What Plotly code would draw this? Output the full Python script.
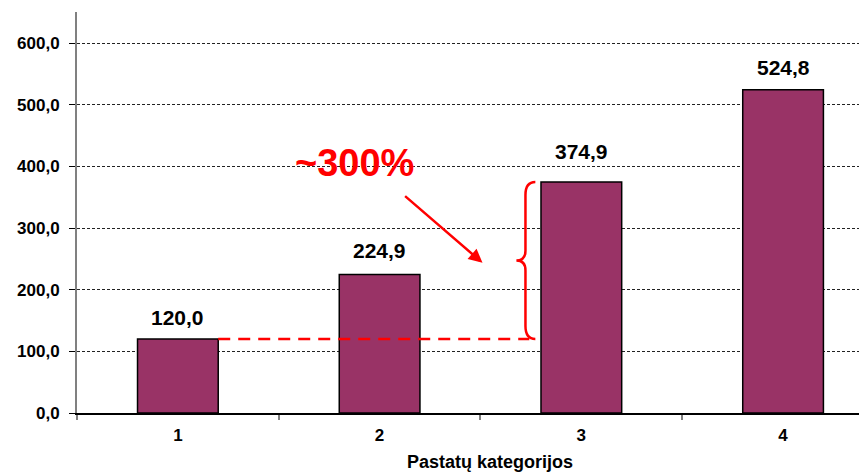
import plotly.graph_objects as go

categories = ["1", "2", "3", "4"]
values = [120.0, 224.9, 374.9, 524.8]
y_ticks = [0, 100, 200, 300, 400, 500, 600]
x_title = "Pastatų kategorijos"
note_text = "~300%"

BAR_COLOR = "#993366"
RED = "#FF0000"
FONT = "Liberation Sans, Arial, sans-serif"
LABEL_SHIFT = [8, 10, 17, 9]

fig = go.Figure()
fig.add_trace(go.Bar(
    x=categories, y=values, width=0.4,
    marker=dict(color=BAR_COLOR, line=dict(color="black", width=1.5)),
    hoverinfo="skip",
))

# value labels
for i, (c, v) in enumerate(zip(categories, values)):
    fig.add_annotation(x=i, y=v, text=f"{v:.1f}".replace(".", ","), showarrow=False,
                       yanchor="bottom", yshift=LABEL_SHIFT[i],
                       font=dict(family=FONT, size=21, color="black", weight="bold"))

# dashed reference line from bar 1 top to the brace
i1, i3 = 0, 2
base = values[i1]
top = values[i3]
brace_x = i3 - 0.2 - 0.028   # just left of bar 3
brace_v = brace_x - 0.049
brace_tip = brace_x - 0.094
fig.add_shape(type="line", xref="x", yref="y",
              x0=i1 + 0.2, x1=brace_x - 0.03, y0=base, y1=base,
              line=dict(color=RED, width=2.5, dash="12px,8px"))

mid = (base + top) / 2
h = 21
m = 16
path = (f"M {brace_x},{top} Q {brace_v},{top} {brace_v},{top - h} "
        f"L {brace_v},{mid + m} Q {brace_v},{mid} {brace_tip},{mid} "
        f"Q {brace_v},{mid} {brace_v},{mid - m} "
        f"L {brace_v},{base + h} Q {brace_v},{base} {brace_x},{base}")
fig.add_shape(type="path", xref="x", yref="y", path=path,
              line=dict(color=RED, width=2.5))

# ~300% text and arrow
fig.add_annotation(x=0.876, y=406, text=note_text, showarrow=False,
                   font=dict(family=FONT, size=38, color=RED, weight="bold"))
fig.add_annotation(x=1.51, y=243.7, ax=1.119, ay=354, xref="x", yref="y",
                   axref="x", ayref="y", text="", showarrow=True,
                   arrowhead=2, arrowsize=1.1, arrowwidth=2.5, arrowcolor=RED)

# x title
fig.add_annotation(x=1.545, y=0, xref="x", yref="paper", text=x_title, showarrow=False,
                   yanchor="middle", yshift=-49,
                   font=dict(family=FONT, size=18, color="black", weight="bold"))

# page body has an 8px margin: figure is sized/margined so the plot lands where the reference has it
fig.update_layout(
    width=859, height=465,
    margin=dict(l=69, r=0, t=4, b=60),
    plot_bgcolor="white", paper_bgcolor="white",
    separators=", ",
    showlegend=False,
    font=dict(family=FONT, color="black"),
)
fig.update_xaxes(
    type="category", range=[-0.5, 3.416],
    tickson="boundaries", ticks="outside", ticklen=5, tickcolor="#808080", tickwidth=2,
    showline=True, linecolor="black", linewidth=1.5,
    showgrid=False, zeroline=False, ticklabelstandoff=6,
    tickfont=dict(family=FONT, size=17, color="black", weight="bold"),
)
fig.update_yaxes(
    range=[0, 650.8], tickvals=y_ticks, tickformat=".1f",
    ticks="outside", ticklen=6, tickcolor="black", tickwidth=1,
    showline=True, linecolor="#808080", linewidth=2,
    showgrid=True, gridcolor="#222222", griddash="3px,2px", gridwidth=1,
    zeroline=False, ticklabelstandoff=6,
    tickfont=dict(family=FONT, size=17, color="black", weight="bold"),
)

fig.write_html("out.html")
